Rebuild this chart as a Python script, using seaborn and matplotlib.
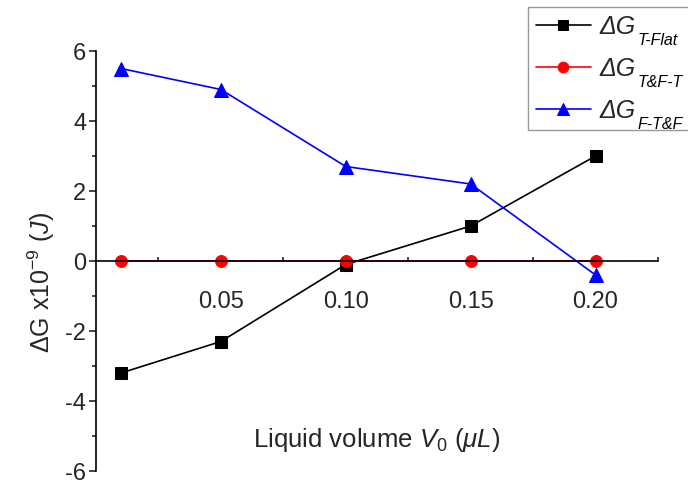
import numpy as np
import pandas as pd
import matplotlib
matplotlib.use("Agg")
import matplotlib.pyplot as plt
from matplotlib.ticker import MultipleLocator, FixedLocator
from matplotlib.patches import Rectangle
import seaborn as sns

# ---- data ----
volume = [0.01, 0.05, 0.10, 0.15, 0.20]
dg_t_flat = [-3.2, -2.3, -0.1, 1.0, 3.0]
dg_tf_t = [0.0, 0.0, 0.0, 0.0, 0.0]
dg_f_tf = [5.5, 4.9, 2.7, 2.2, -0.4]
series_main = ['ΔG', 'ΔG', 'ΔG']
series_subs = ['T-Flat', 'T&F-T', 'F-T&F']
x_ticks = [0.05, 0.10, 0.15, 0.20]
x_ticklabels = ["0.05", "0.10", "0.15", "0.20"]
y_ticks = [-6, -4, -2, 0, 2, 4, 6]

sns.set_style("ticks")
plt.rcParams['font.family'] = ['Liberation Sans', 'DejaVu Sans']
plt.rcParams['mathtext.fontset'] = 'custom'
plt.rcParams['mathtext.rm'] = 'Liberation Sans'
plt.rcParams['mathtext.it'] = 'Liberation Sans:italic'
plt.rcParams['mathtext.bf'] = 'Liberation Sans:bold'
plt.rcParams['axes.unicode_minus'] = False

fig = plt.figure(figsize=(6.88, 4.85), dpi=100)
ax = fig.add_axes([96/688, 1-472/485, 562/688, 420/485])

colors = ['black', '#ff0000', '#0000ff']
markers = ['s', 'o', '^']
msizes = [8, 8.5, 9.5]
for vals, lab, c, m, ms in zip([dg_t_flat, dg_tf_t, dg_f_tf], series_main, colors, markers, msizes):
    df = pd.DataFrame({'x': volume, 'y': vals})
    sns.lineplot(data=df, x='x', y='y', ax=ax, color=c, marker=m, markersize=ms,
                 markeredgecolor=c, linewidth=1.2, label=lab, clip_on=False)

ax.set_xlim(0, 0.225)
ax.set_ylim(-6, 6)

ax.spines['top'].set_visible(False)
ax.spines['right'].set_visible(False)
ax.spines['bottom'].set_position(('data', 0))
for s in ['left', 'bottom']:
    ax.spines[s].set_linewidth(1.2)
    ax.spines[s].set_color('black')

ax.xaxis.set_major_locator(FixedLocator(x_ticks))
ax.set_xticklabels(x_ticklabels)
ax.xaxis.set_minor_locator(FixedLocator([0.025, 0.075, 0.125, 0.175, 0.225]))
ax.yaxis.set_major_locator(FixedLocator(y_ticks))
ax.yaxis.set_minor_locator(MultipleLocator(1))

ax.tick_params(axis='x', which='major', direction='in', length=4, width=1.2, pad=21, labelsize=17)
ax.tick_params(axis='x', which='minor', direction='in', length=3, width=1.2)
ax.tick_params(axis='y', which='major', direction='out', length=5, width=1.2, labelsize=17, pad=2)
ax.tick_params(axis='y', which='minor', direction='out', length=3, width=1.2)

ax.set_xlabel('')
ax.set_ylabel(r'ΔG x10$^{\mathrm{-9}}$ ($\mathit{J}$)', fontsize=18)
ax.yaxis.set_label_coords(-0.07, 0.45)
ax.text(0.5, 0.076, r'Liquid volume $\mathit{V}_{\mathit{0}}$ ($\mathit{μL}$)', transform=ax.transAxes,
        ha='center', va='center', fontsize=18.5)

ax.get_legend().remove()
handles, labels = ax.get_legend_handles_labels()
leg = fig.legend(handles, labels, loc='upper left', bbox_to_anchor=(528/688, 1-8/485),
                 prop={'size': 18, 'style': 'italic', 'family': 'Liberation Sans'},
                 frameon=False,
                 handlelength=2.2, handletextpad=0.35, labelspacing=0.72, borderpad=0.3,
                 borderaxespad=0, markerscale=0.9)
leg.set_zorder(6)

# legend frame reaching past the right edge, and subscripts of legend labels
fig.canvas.draw()
renderer = fig.canvas.get_renderer()
W, H = fig.bbox.width, fig.bbox.height
lbb = leg.get_window_extent(renderer)
frame = Rectangle((lbb.x0 / W, lbb.y0 / H), (W + 10 - lbb.x0) / W, (lbb.y1 - lbb.y0) / H,
                  transform=fig.transFigure, facecolor='white', edgecolor='#999999',
                  linewidth=1.0, zorder=5)
fig.patches.append(frame)
for t, sub in zip(leg.get_texts(), series_subs):
    bb = t.get_window_extent(renderer)
    x = bb.x1 + 2
    y = bb.y0 - 1
    fig.text(x / W, y / H, sub, fontsize=11.5, style='italic', family='Liberation Sans',
             ha='left', va='center', zorder=7, color='black')

fig.savefig('out.png', dpi=100)
